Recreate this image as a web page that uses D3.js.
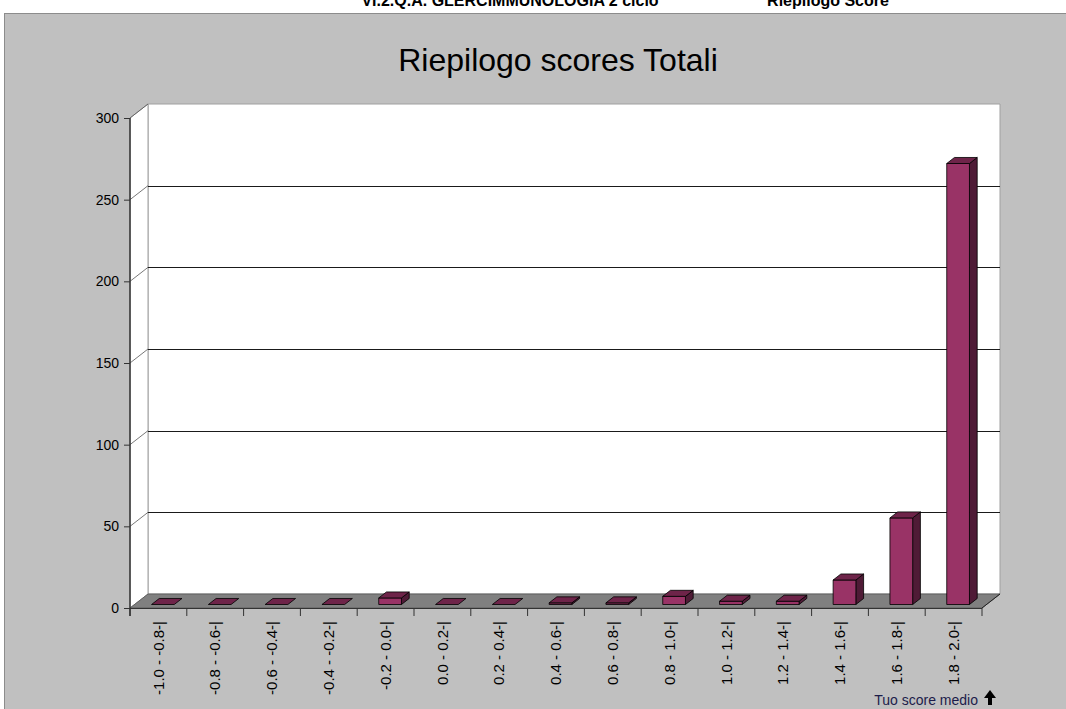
<!DOCTYPE html>
<html>
<head>
<meta charset="utf-8">
<title>Riepilogo scores Totali</title>
<style>
  body { margin: 0; background: #fff; }
  svg { display: block; font-family: "Liberation Sans", Arial, sans-serif; }
  .tick text { font-size: 14px; fill: #000; }
  .x-axis .tick text { font-size: 15px; }
  .grid { stroke: #1a1a1a; stroke-width: 1px; }
</style>
</head>
<body>
<svg width="1066" height="709"></svg>
<script src="https://d3js.org/d3.v7.min.js"></script>
<script>

// data
var categories = ["-1.0 - -0.8", "-0.8 - -0.6", "-0.6 - -0.4", "-0.4 - -0.2", "-0.2 - 0.0",
                  "0.0 - 0.2", "0.2 - 0.4", "0.4 - 0.6", "0.6 - 0.8", "0.8 - 1.0",
                  "1.0 - 1.2", "1.2 - 1.4", "1.4 - 1.6", "1.6 - 1.8", "1.8 - 2.0"];
var counts = [0, 0, 0, 0, 4, 0, 0, 1, 1, 5, 2, 2, 15, 53, 270];
var yTicks = [0, 50, 100, 150, 200, 250, 300];

var svg = d3.select("svg");

// 3d depth of the plot box
var depthX = 18, depthY = 14;
var plotL = 130, plotR = 982, plotB = 608, plotT = 118;

var x = d3.scaleBand().domain(categories).range([plotL, plotR]).paddingInner(0.6).paddingOuter(0.3);
var xOuter = d3.scaleBand().domain(categories).range([plotL, plotR]);
var y = d3.scaleLinear().domain([0, 300]).range([plotB, plotT]);

// project a point at depth d (0 = front, 1 = back wall)
function pt(px, py, d) { return [px + d * depthX, py - d * depthY]; }
function poly(pts) { return "M" + pts.map(function(p) { return p.join(","); }).join("L") + "Z"; }

// header, cut at the top of the page
svg.append("text").attr("x", 510).attr("y", 6).attr("text-anchor", "middle")
   .style("font-weight", "bold").style("font-size", "16px")
   .text("VI.2.Q.A. GLERCIMMUNOLOGIA  2 ciclo");
svg.append("text").attr("x", 828).attr("y", 6).attr("text-anchor", "middle")
   .style("font-weight", "bold").style("font-size", "16px")
   .text("Riepilogo Score");

// grey chart area
svg.append("rect").attr("x", 4.5).attr("y", 13.5).attr("width", 1070).attr("height", 700)
   .attr("fill", "#c0c0c0").attr("stroke", "#8c8c8c");

svg.append("text").attr("x", 558).attr("y", 71).attr("text-anchor", "middle")
   .style("font-size", "32px").attr("fill", "#000")
   .text("Riepilogo scores Totali");

// walls
svg.append("path").attr("fill", "#fff").attr("stroke", "#a0a0a0").attr("stroke-width", 1)
   .attr("d", poly([pt(plotL, plotB, 1), pt(plotR, plotB, 1), pt(plotR, plotT, 1), pt(plotL, plotT, 1)]));
svg.append("path").attr("fill", "#fff").attr("stroke", "#a0a0a0").attr("stroke-width", 1)
   .attr("d", poly([pt(plotL, plotB, 0), pt(plotL, plotB, 1), pt(plotL, plotT, 1), pt(plotL, plotT, 0)]));

// gridlines on back wall and side wall
var grid = svg.append("g");
yTicks.filter(function(v) { return v > 0 && v < 300; }).forEach(function(v) {
  var a = pt(plotL, y(v), 1), b = pt(plotR, y(v), 1);
  grid.append("line").attr("class", "grid")
      .attr("x1", a[0]).attr("y1", Math.round(a[1]) + 0.5).attr("x2", b[0]).attr("y2", Math.round(a[1]) + 0.5);
});
yTicks.filter(function(v) { return v > 0; }).forEach(function(v) {
  var a = pt(plotL, y(v), 0), b = pt(plotL, y(v), 1);
  grid.append("line").attr("stroke", "#555").attr("stroke-width", 0.8)
      .attr("x1", a[0]).attr("y1", a[1]).attr("x2", b[0]).attr("y2", b[1]);
});

// floor
svg.append("path").attr("fill", "#808080").attr("stroke", "#555").attr("stroke-width", 0.8)
   .attr("d", poly([pt(plotL, plotB, 0), pt(plotR, plotB, 0), pt(plotR, plotB, 1), pt(plotL, plotB, 1)]));

// bars
var d0 = 0.25, d1 = 0.68;
var bars = svg.append("g");
categories.forEach(function(c, i) {
  var x0 = x(c), x1 = x(c) + x.bandwidth();
  var yt = y(counts[i]);
  var g = bars.append("g").attr("stroke", "#000").attr("stroke-width", 0.8).attr("stroke-linejoin", "round");
  if (counts[i] > 0) {
    g.append("path").attr("fill", "#4f1b36")
     .attr("d", poly([pt(x1, plotB, d0), pt(x1, plotB, d1), pt(x1, yt, d1), pt(x1, yt, d0)]));
    g.append("path").attr("fill", "#993366")
     .attr("d", poly([pt(x0, plotB, d0), pt(x1, plotB, d0), pt(x1, yt, d0), pt(x0, yt, d0)]));
  }
  g.append("path").attr("fill", "#6e2449")
   .attr("d", poly([pt(x0, yt, d0), pt(x1, yt, d0), pt(x1, yt, d1), pt(x0, yt, d1)]));
});

// y axis
var yAxis = d3.axisLeft(y).tickValues(yTicks).tickSize(6).tickPadding(5);
svg.append("g").attr("transform", "translate(" + plotL + ",0)").call(yAxis)
   .call(function(g) {
     g.select(".domain").attr("stroke", "#333").attr("stroke-width", 1.5).attr("d", "M0," + plotT + "V" + (plotB + 8));
     g.selectAll(".tick line").attr("stroke", "#333");
   });

// x axis
var xAxis = d3.axisBottom(xOuter).tickSize(0).tickFormat(function(d) { return d + "-|"; });
var xg = svg.append("g").attr("class", "x-axis").attr("transform", "translate(0," + plotB + ")").call(xAxis);
xg.select(".domain").attr("stroke", "#333").attr("d", "M" + plotL + ",0.5H" + plotR);
xg.selectAll(".tick text")
  .attr("transform", "rotate(-90)")
  .attr("text-anchor", "end")
  .attr("x", -13).attr("y", 0).attr("dy", "0.35em");
// category separators
xOuter.domain().concat(["end"]).forEach(function(c, i) {
  var xx = plotL + i * xOuter.step();
  xg.append("line").attr("stroke", "#333").attr("x1", xx).attr("x2", xx).attr("y1", 0).attr("y2", 8);
});
// right edge of floor
var rf = pt(plotR, plotB, 0), rb = pt(plotR, plotB, 1);
svg.append("line").attr("stroke", "#222").attr("x1", rf[0]).attr("y1", rf[1]).attr("x2", rb[0]).attr("y2", rb[1]);

// footnote
svg.append("text").attr("x", 978).attr("y", 705).attr("text-anchor", "end")
   .style("font-size", "14px").attr("fill", "#1c1c4a").text("Tuo score medio");
svg.append("path").attr("fill", "#000")
   .attr("d", "M988,705V698H984L990,690L996,698H992V705Z");

</script>
</body>
</html>
